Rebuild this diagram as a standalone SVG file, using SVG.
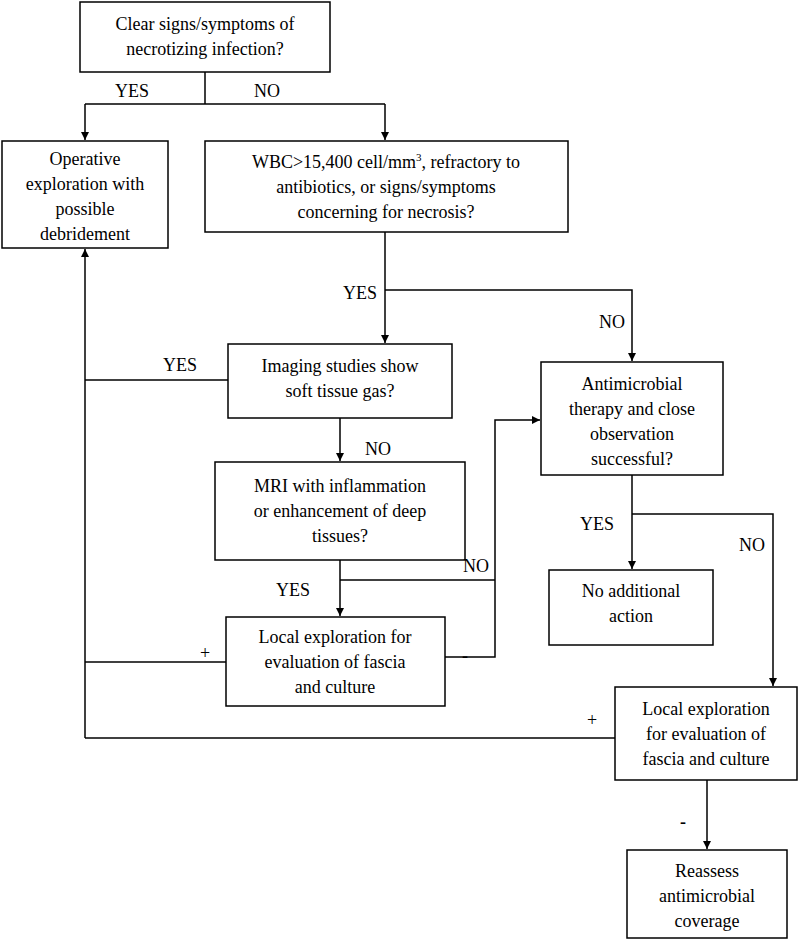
<svg xmlns="http://www.w3.org/2000/svg" width="800" height="942" viewBox="0 0 800 942">
<style>
rect{fill:#fff;stroke:#000;stroke-width:1.5}
text{font-family:"Liberation Serif",serif;font-size:18px;text-anchor:middle;fill:#000}
.c path{fill:none;stroke:#000;stroke-width:1.5}
</style>
<defs><marker id="a" viewBox="0 0 10 10" refX="10" refY="5" markerWidth="8" markerHeight="8" orient="auto" markerUnits="userSpaceOnUse"><path d="M0,0L10,5L0,10z" fill="#000"/></marker></defs>
<rect width="800" height="942" style="stroke:none"/>
<g class="c">
<path d="M205,72V104M85,104H385"/>
<path d="M85,104V140" marker-end="url(#a)"/>
<path d="M385,104V140" marker-end="url(#a)"/>
<path d="M385,232V343" marker-end="url(#a)"/>
<path d="M385,290H632V361" marker-end="url(#a)"/>
<path d="M228,380H85"/>
<path d="M85,738V249" marker-end="url(#a)"/>
<path d="M340,418V461" marker-end="url(#a)"/>
<path d="M340,560V616" marker-end="url(#a)"/>
<path d="M340,580H495"/>
<path d="M445,657H495V420H540" marker-end="url(#a)"/>
<path d="M226,662H85"/>
<path d="M632,475V569" marker-end="url(#a)"/>
<path d="M632,514H773V686" marker-end="url(#a)"/>
<path d="M615,738H85"/>
<path d="M707,780V849" marker-end="url(#a)"/>
</g>
<g id="n1"><rect x="80" y="2" width="250" height="70"/><text x="205" y="30">Clear signs/symptoms of</text><text x="205" y="55">necrotizing infection?</text></g>
<g id="n2"><rect x="2" y="141" width="166" height="107"/><text x="85" y="165">Operative</text><text x="85" y="190">exploration with</text><text x="85" y="215">possible</text><text x="85" y="240">debridement</text></g>
<g id="n3"><rect x="205" y="141" width="363" height="91"/><text x="386" y="168">WBC&gt;15,400 cell/mm<tspan font-size="11" dy="-7">3</tspan><tspan dy="7">, refractory to</tspan></text><text x="386" y="193">antibiotics, or signs/symptoms</text><text x="386" y="218">concerning for necrosis?</text></g>
<g id="n4"><rect x="228" y="344" width="224" height="74"/><text x="340" y="372">Imaging studies show</text><text x="340" y="397">soft tissue gas?</text></g>
<g id="n5"><rect x="541" y="362" width="182" height="113"/><text x="632" y="390">Antimicrobial</text><text x="632" y="415">therapy and close</text><text x="632" y="440">observation</text><text x="632" y="465">successful?</text></g>
<g id="n6"><rect x="215" y="462" width="250" height="98"/><text x="340" y="492">MRI with inflammation</text><text x="340" y="517">or enhancement of deep</text><text x="340" y="542">tissues?</text></g>
<g id="n7"><rect x="549" y="570" width="164" height="75"/><text x="631" y="597">No additional</text><text x="631" y="622">action</text></g>
<g id="n8"><rect x="226" y="617" width="219" height="89"/><text x="335" y="643">Local exploration for</text><text x="335" y="668">evaluation of fascia</text><text x="335" y="693">and culture</text></g>
<g id="n9"><rect x="615" y="687" width="182" height="93"/><text x="706" y="715">Local exploration</text><text x="706" y="740">for evaluation of</text><text x="706" y="765">fascia and culture</text></g>
<g id="n10"><rect x="627" y="850" width="160" height="88"/><text x="707" y="877">Reassess</text><text x="707" y="902">antimicrobial</text><text x="707" y="927">coverage</text></g>
<g id="labels">
<text x="132" y="97">YES</text><text x="267" y="97">NO</text>
<text x="360" y="299">YES</text><text x="612" y="328">NO</text>
<text x="180" y="371">YES</text><text x="378" y="455">NO</text>
<text x="476" y="572">NO</text><text x="293" y="596">YES</text>
<text x="597" y="530">YES</text><text x="752" y="551">NO</text>
<text x="205" y="659" font-size="22">+</text><text x="465" y="662" font-size="24" font-weight="bold">-</text>
<text x="592" y="726" font-size="22">+</text><text x="683" y="828" font-size="24" font-weight="bold">-</text>
</g>
</svg>
